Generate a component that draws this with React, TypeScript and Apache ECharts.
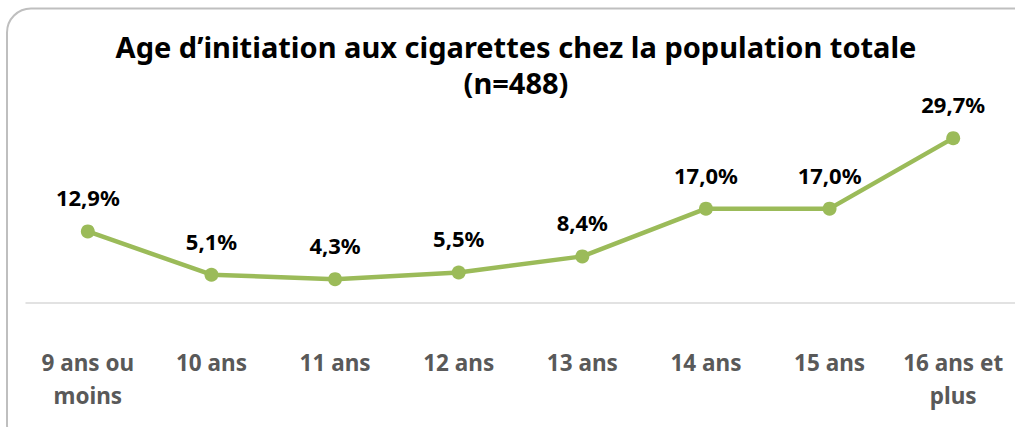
import React, { useEffect, useRef } from "react";
import * as echarts from "echarts";

const titleLines = ["Age d\u2019initiation aux cigarettes chez la population totale", "(n=488)"];
const categories = ["9 ans ou\nmoins", "10 ans", "11 ans", "12 ans", "13 ans", "14 ans", "15 ans", "16 ans et\nplus"];
const values = [12.9, 5.1, 4.3, 5.5, 8.4, 17.0, 17.0, 29.7];

const FONT = "'Noto Sans', 'DejaVu Sans', sans-serif";

export default function App() {
  const ref = useRef<HTMLDivElement>(null);
  useEffect(() => {
    document.body.style.margin = "0";
    const chart = echarts.init(ref.current!, null, { renderer: "svg" });
    const titleY = [46, 82];
    chart.setOption({
      animation: false,
      backgroundColor: "#ffffff",
      graphic: [
        {
          type: "rect",
          shape: { x: 7, y: 8.5, width: 1040, height: 440, r: 24 },
          style: { fill: "none", stroke: "#BFBFBF", lineWidth: 2 },
          z: -1,
        },
        ...titleLines.map((t, i) => ({
          type: "text",
          x: 516,
          y: titleY[i],
          style: {
            text: t,
            align: "center",
            verticalAlign: "middle",
            fontFamily: FONT,
            fontWeight: "bold",
            fontSize: 29,
            fill: "#000000",
          },
        })),
      ],
      grid: { left: 26, top: 81, width: 993, height: 222, containLabel: false },
      xAxis: {
        type: "category",
        data: categories,
        boundaryGap: true,
        axisLine: { show: true, lineStyle: { color: "#D9D9D9", width: 1.5 } },
        axisTick: { show: false },
        axisLabel: {
          interval: 0,
          margin: 43,
          fontFamily: FONT,
          fontWeight: "bold",
          fontSize: 22.5,
          lineHeight: 33,
          color: "#595959",
        },
      },
      yAxis: {
        type: "value",
        min: 0,
        max: 40,
        show: false,
        splitLine: { show: false },
      },
      series: [
        {
          type: "line",
          data: values,
          symbol: "circle",
          symbolSize: 14,
          lineStyle: { color: "#9BBB59", width: 4.5 },
          itemStyle: { color: "#9BBB59" },
          label: {
            show: true,
            position: "top",
            distance: 16,
            formatter: (p: any) => p.value.toFixed(1).replace(".", ",") + "%",
            fontFamily: FONT,
            fontWeight: "bold",
            fontSize: 22,
            color: "#000000",
          },
        },
      ],
    });
    return () => chart.dispose();
  }, []);
  return <div ref={ref} style={{ position: "fixed", left: 0, top: 0, width: 1015, height: 427 }} />;
}
